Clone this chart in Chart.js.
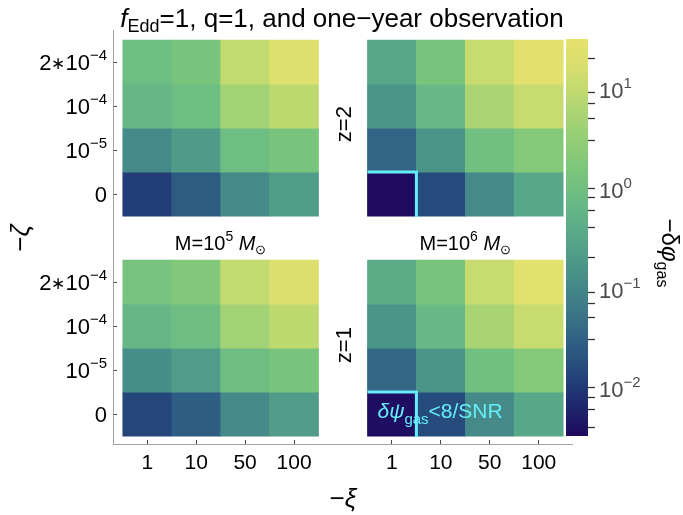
<!DOCTYPE html>
<html>
<head>
<meta charset="utf-8">
<script src="https://cdn.jsdelivr.net/npm/chart.js@4.4.1/dist/chart.umd.min.js"></script>
<style>
  html, body { margin: 0; padding: 0; background: #fff; }
  #wrap { position: relative; width: 683px; height: 515px; }
  #wrap canvas { position: absolute; left: 0; top: 0; }
</style>
</head>
<body>
<div id="wrap">
  <canvas id="heat" width="683" height="515"></canvas>
  <canvas id="cbar" width="683" height="515"></canvas>
</div>
<script>
/* global Chart */
'use strict';

// ── data ────────────────────────────────────────────────────────
// columns: -xi = 1, 10, 50, 100 ; rows (bottom → top): -zeta = 0, 1e-5, 1e-4, 2e-4
var xiLabels  = ['1', '10', '50', '100'];
var zetaPre   = ['', '', '', '2'];
var zetaBase  = ['0', '10', '10', '10'];
var zetaExp   = ['', '\u22125', '\u22124', '\u22124'];

// -δφ_gas, M = 1e5, z = 2
var phiM5z2 = [
  [0.011, 0.025, 0.11, 0.22],
  [0.11,  0.20,  0.9,  1.4],
  [0.63,  0.9,   4.5,  9],
  [0.9,   1.4,   10,   22]
];
// M = 1e6, z = 2
var phiM6z2 = [
  [0.0033, 0.016, 0.11, 0.32],
  [0.032,  0.16,  1.0,  2.0],
  [0.16,   0.7,   5.6,  11],
  [0.32,   1.4,   11,   28]
];
// M = 1e5, z = 1
var phiM5z1 = [
  [0.014, 0.026, 0.11, 0.21],
  [0.126, 0.21,  0.93, 1.4],
  [0.66,  0.93,  4.5,  9],
  [1.25,  1.8,   10,   20]
];
// M = 1e6, z = 1
var phiM6z1 = [
  [0.0035, 0.016, 0.11, 0.32],
  [0.035,  0.16,  1.0,  2.0],
  [0.16,   0.72,  5.2,  11],
  [0.4,    1.4,   11,   26]
];
// cells where δψ_gas < 8/SNR  ([column, row])
var belowSnrM6 = [[0, 0]];

var cbarMin = 0.00326;
var cbarMax = 31.3;

// ── colormap ────────────────────────────────────────────────────
var cmapStops = [
  [0.000, '#1e0a5f'], [0.083, '#1f2b6e'], [0.169, '#254a7d'], [0.252, '#316585'],
  [0.335, '#3f7d87'], [0.421, '#4a9488'], [0.504, '#58a889'], [0.587, '#68b985'],
  [0.673, '#7cc67b'], [0.756, '#96cf75'], [0.839, '#b5d772'], [0.925, '#d6de6e'],
  [1.000, '#e6e26c']
];

function hexRgb(h) {
  return [parseInt(h.substr(1, 2), 16), parseInt(h.substr(3, 2), 16), parseInt(h.substr(5, 2), 16)];
}

function colorFor(v) {
  var lo = Math.log10(cbarMin), hi = Math.log10(cbarMax);
  var t = (Math.log10(v) - lo) / (hi - lo);
  t = Math.max(0, Math.min(1, t));
  for (var i = 1; i < cmapStops.length; i++) {
    if (t <= cmapStops[i][0]) {
      var a = cmapStops[i - 1], b = cmapStops[i];
      var f = (t - a[0]) / (b[0] - a[0]);
      var ca = hexRgb(a[1]), cb = hexRgb(b[1]);
      return 'rgb(' + Math.round(ca[0] + (cb[0] - ca[0]) * f) + ',' +
        Math.round(ca[1] + (cb[1] - ca[1]) * f) + ',' +
        Math.round(ca[2] + (cb[2] - ca[2]) * f) + ')';
    }
  }
  return cmapStops[cmapStops.length - 1][1];
}

// ── layout of the 2x2 grid on one pair of scales ────────────────
var GAP = 1; // one empty column / row between panels
var N = xiLabels.length;
var panels = [
  { values: phiM5z1, col0: 0,       row0: 0 },
  { values: phiM6z1, col0: N + GAP, row0: 0 },
  { values: phiM5z2, col0: 0,       row0: N + GAP },
  { values: phiM6z2, col0: N + GAP, row0: N + GAP }
];

var xTickPos = [], yTickPos = [];
[0, N + GAP].forEach(function (off) {
  for (var i = 0; i < N; i++) { xTickPos.push(off + i + 0.5); yTickPos.push(off + i + 0.5); }
});

var datasets = panels.map(function (p) {
  var data = [], colors = [];
  for (var r = 0; r < p.values.length; r++) {
    for (var c = 0; c < p.values[r].length; c++) {
      data.push({ x: p.col0 + c + 0.5, y: [p.row0 + r, p.row0 + r + 1] });
      colors.push(colorFor(p.values[r][c]));
    }
  }
  return {
    data: data, backgroundColor: colors, borderWidth: 0,
    barPercentage: 1, categoryPercentage: 1, grouped: false
  };
});

// ── text helpers ────────────────────────────────────────────────
var FAMILY = '"Liberation Sans", Arial, Helvetica, sans-serif';

function fontOf(r) { return (r.i ? 'italic ' : '') + r.s + 'px ' + FAMILY; }

function drawRich(ctx, runs, x, y, opt) {
  opt = opt || {};
  ctx.save();
  ctx.translate(x, y);
  if (opt.rotate) ctx.rotate(opt.rotate);
  ctx.textBaseline = 'alphabetic';
  ctx.textAlign = 'left';
  ctx.fillStyle = opt.color || '#000';
  var widths = runs.map(function (r) { ctx.font = fontOf(r); return ctx.measureText(r.t).width; });
  var total = widths.reduce(function (a, b) { return a + b; }, 0);
  var cx = opt.align === 'center' ? -total / 2 : (opt.align === 'right' ? -total : 0);
  runs.forEach(function (r, i) {
    ctx.font = fontOf(r);
    ctx.fillText(r.t, cx, r.dy || 0);
    cx += widths[i];
  });
  ctx.restore();
}

var labelsPlugin = {
  id: 'labels',
  afterDraw: function (chart) {
    var ctx = chart.ctx, xs = chart.scales.x, ys = chart.scales.y;

    // threshold outline (cyan)
    ctx.save();
    ctx.strokeStyle = '#66eef8';
    ctx.lineWidth = 3;
    [0, N + GAP].forEach(function (r0) {
      belowSnrM6.forEach(function (cell) {
        var xl = xs.getPixelForValue(N + GAP + cell[0]);
        var xr = xs.getPixelForValue(N + GAP + cell[0] + 1);
        var yt = ys.getPixelForValue(r0 + cell[1] + 1);
        var yb = ys.getPixelForValue(r0 + cell[1]);
        ctx.beginPath();
        ctx.moveTo(xl, yt);
        ctx.lineTo(xr, yt);
        ctx.lineTo(xr, yb + 1);
        ctx.stroke();
      });
    });
    ctx.restore();

    drawRich(ctx, [
      { t: '\u03b4\u03c8', s: 21, i: true },
      { t: 'gas', s: 15, dy: 6 },
      { t: '<8/SNR', s: 21 }
    ], xs.getPixelForValue(N + GAP) + 10, ys.getPixelForValue(0.5) + 4, { color: '#66eef8' });

    // y tick labels
    yTickPos.forEach(function (v, i) {
      var k = i % N, py = ys.getPixelForValue(v);
      var runs = [];
      if (zetaPre[k]) runs.push({ t: zetaPre[k], s: 22 }, { t: '\u2217', s: 17, dy: -1 });
      runs.push({ t: zetaBase[k], s: 22 });
      if (zetaExp[k]) runs.push({ t: zetaExp[k], s: 15, dy: -10 });
      drawRich(ctx, runs, 107, py + 8, { align: 'right' });
    });

    // title
    drawRich(ctx, [
      { t: 'f', s: 26, i: true },
      { t: 'Edd', s: 18, dy: 5 },
      { t: '=1, q=1, and one\u2212year observation', s: 26 }
    ], 342, 27, { align: 'center' });

    // panel captions
    var capY = ys.getPixelForValue(N + GAP / 2) + 12;
    [['5', 0], ['6', N + GAP]].forEach(function (m) {
      drawRich(ctx, [
        { t: 'M=10', s: 20 },
        { t: m[0], s: 14, dy: -9 },
        { t: ' ', s: 20 },
        { t: 'M', s: 20, i: true },
        { t: '\u2299', s: 13, dy: 4 }
      ], xs.getPixelForValue(m[1] + N / 2), capY, { align: 'center' });
    });
    var zx = xs.getPixelForValue(N + GAP / 2) + 8;
    drawRich(ctx, [{ t: 'z=2', s: 22 }], zx, ys.getPixelForValue(N + GAP + N / 2) - 4,
      { align: 'center', rotate: -Math.PI / 2 });
    drawRich(ctx, [{ t: 'z=1', s: 22 }], zx, ys.getPixelForValue(N / 2) - 3,
      { align: 'center', rotate: -Math.PI / 2 });

    // axis titles
    drawRich(ctx, [{ t: '\u2212', s: 26 }, { t: '\u03b6', s: 26, i: true }],
      29, ys.getPixelForValue(N + GAP / 2), { align: 'center', rotate: -Math.PI / 2 });
    drawRich(ctx, [{ t: '\u2212', s: 26 }, { t: '\u03be', s: 26, i: true }],
      xs.getPixelForValue(N + GAP / 2), 507, { align: 'center' });

    // colour bar title
    drawRich(ctx, [
      { t: '\u2212\u03b4', s: 24 },
      { t: '\u03c6', s: 24, i: true },
      { t: 'gas', s: 16, dy: 5 }
    ], 662, 253, { align: 'center', rotate: Math.PI / 2 });
  }
};

new Chart(document.getElementById('heat').getContext('2d'), {
  type: 'bar',
  data: { datasets: datasets },
  options: {
    responsive: false,
    animation: false,
    devicePixelRatio: 1,
    events: [],
    layout: { padding: { top: 30, right: 111, left: 0, bottom: 0 } },
    plugins: { legend: { display: false }, tooltip: { enabled: false } },
    scales: {
      x: {
        type: 'linear', min: -0.2, max: 9.18, offset: false,
        afterBuildTicks: function (s) { s.ticks = xTickPos.map(function (v) { return { value: v }; }); },
        afterFit: function (s) { s.height = 71; },
        border: { color: '#a0a0a0', width: 1 },
        grid: { offset: false, drawOnChartArea: false, drawTicks: true, tickLength: -4, tickColor: '#444', tickWidth: 1 },
        ticks: {
          autoSkip: false, maxRotation: 0, padding: 11, color: '#000',
          font: { family: FAMILY, size: 21 },
          callback: function (v, i) { return xiLabels[i % N]; }
        }
      },
      y: {
        type: 'linear', min: -0.18, max: 9.23,
        afterBuildTicks: function (s) { s.ticks = yTickPos.map(function (v) { return { value: v }; }); },
        afterFit: function (s) { s.width = 113; },
        border: { color: '#a0a0a0', width: 1 },
        grid: { drawOnChartArea: false, drawTicks: true, tickLength: -4, tickColor: '#444', tickWidth: 1 },
        ticks: { callback: function () { return ''; } }
      }
    }
  },
  plugins: [labelsPlugin]
});

// ── colour bar ──────────────────────────────────────────────────
var cbarTicks = [];
for (var e = -3; e <= 1; e++) {
  for (var m = 1; m <= 9; m++) {
    var tv = m * Math.pow(10, e);
    if (tv >= cbarMin && tv <= cbarMax) cbarTicks.push(tv);
  }
}

var cbarLabelPlugin = {
  id: 'cbarLabels',
  afterDraw: function (chart) {
    var ys = chart.scales.y, ctx = chart.ctx;
    for (var e = -2; e <= 1; e++) {
      var py = ys.getPixelForValue(Math.pow(10, e));
      drawRich(ctx, [
        { t: '10', s: 22 },
        { t: (e < 0 ? '\u2212' : '') + Math.abs(e), s: 15, dy: -10 }
      ], 599, py + 10, { color: '#4a4a4a' });
    }
  }
};

new Chart(document.getElementById('cbar').getContext('2d'), {
  type: 'bar',
  data: {
    labels: [''],
    datasets: [{
      data: [[cbarMin, cbarMax]],
      borderWidth: 0,
      barPercentage: 1,
      categoryPercentage: 1,
      backgroundColor: function (c) {
        var a = c.chart.chartArea;
        if (!a) return '#888';
        var g = c.chart.ctx.createLinearGradient(0, a.bottom, 0, a.top);
        cmapStops.forEach(function (s) { g.addColorStop(s[0], s[1]); });
        return g;
      }
    }]
  },
  options: {
    responsive: false,
    animation: false,
    devicePixelRatio: 1,
    events: [],
    layout: { padding: { top: 39, bottom: 79, left: 566, right: 0 } },
    plugins: { legend: { display: false }, tooltip: { enabled: false } },
    scales: {
      x: { display: false },
      y: {
        type: 'logarithmic', position: 'right', min: cbarMin, max: cbarMax,
        afterBuildTicks: function (s) { s.ticks = cbarTicks.map(function (v) { return { value: v }; }); },
        afterFit: function (s) { s.width = 95; },
        border: { display: false },
        grid: { drawOnChartArea: false, drawTicks: true, tickLength: 7, tickColor: '#333', tickWidth: 1.3 },
        ticks: { callback: function () { return ''; } }
      }
    }
  },
  plugins: [cbarLabelPlugin]
});
</script>
</body>
</html>
